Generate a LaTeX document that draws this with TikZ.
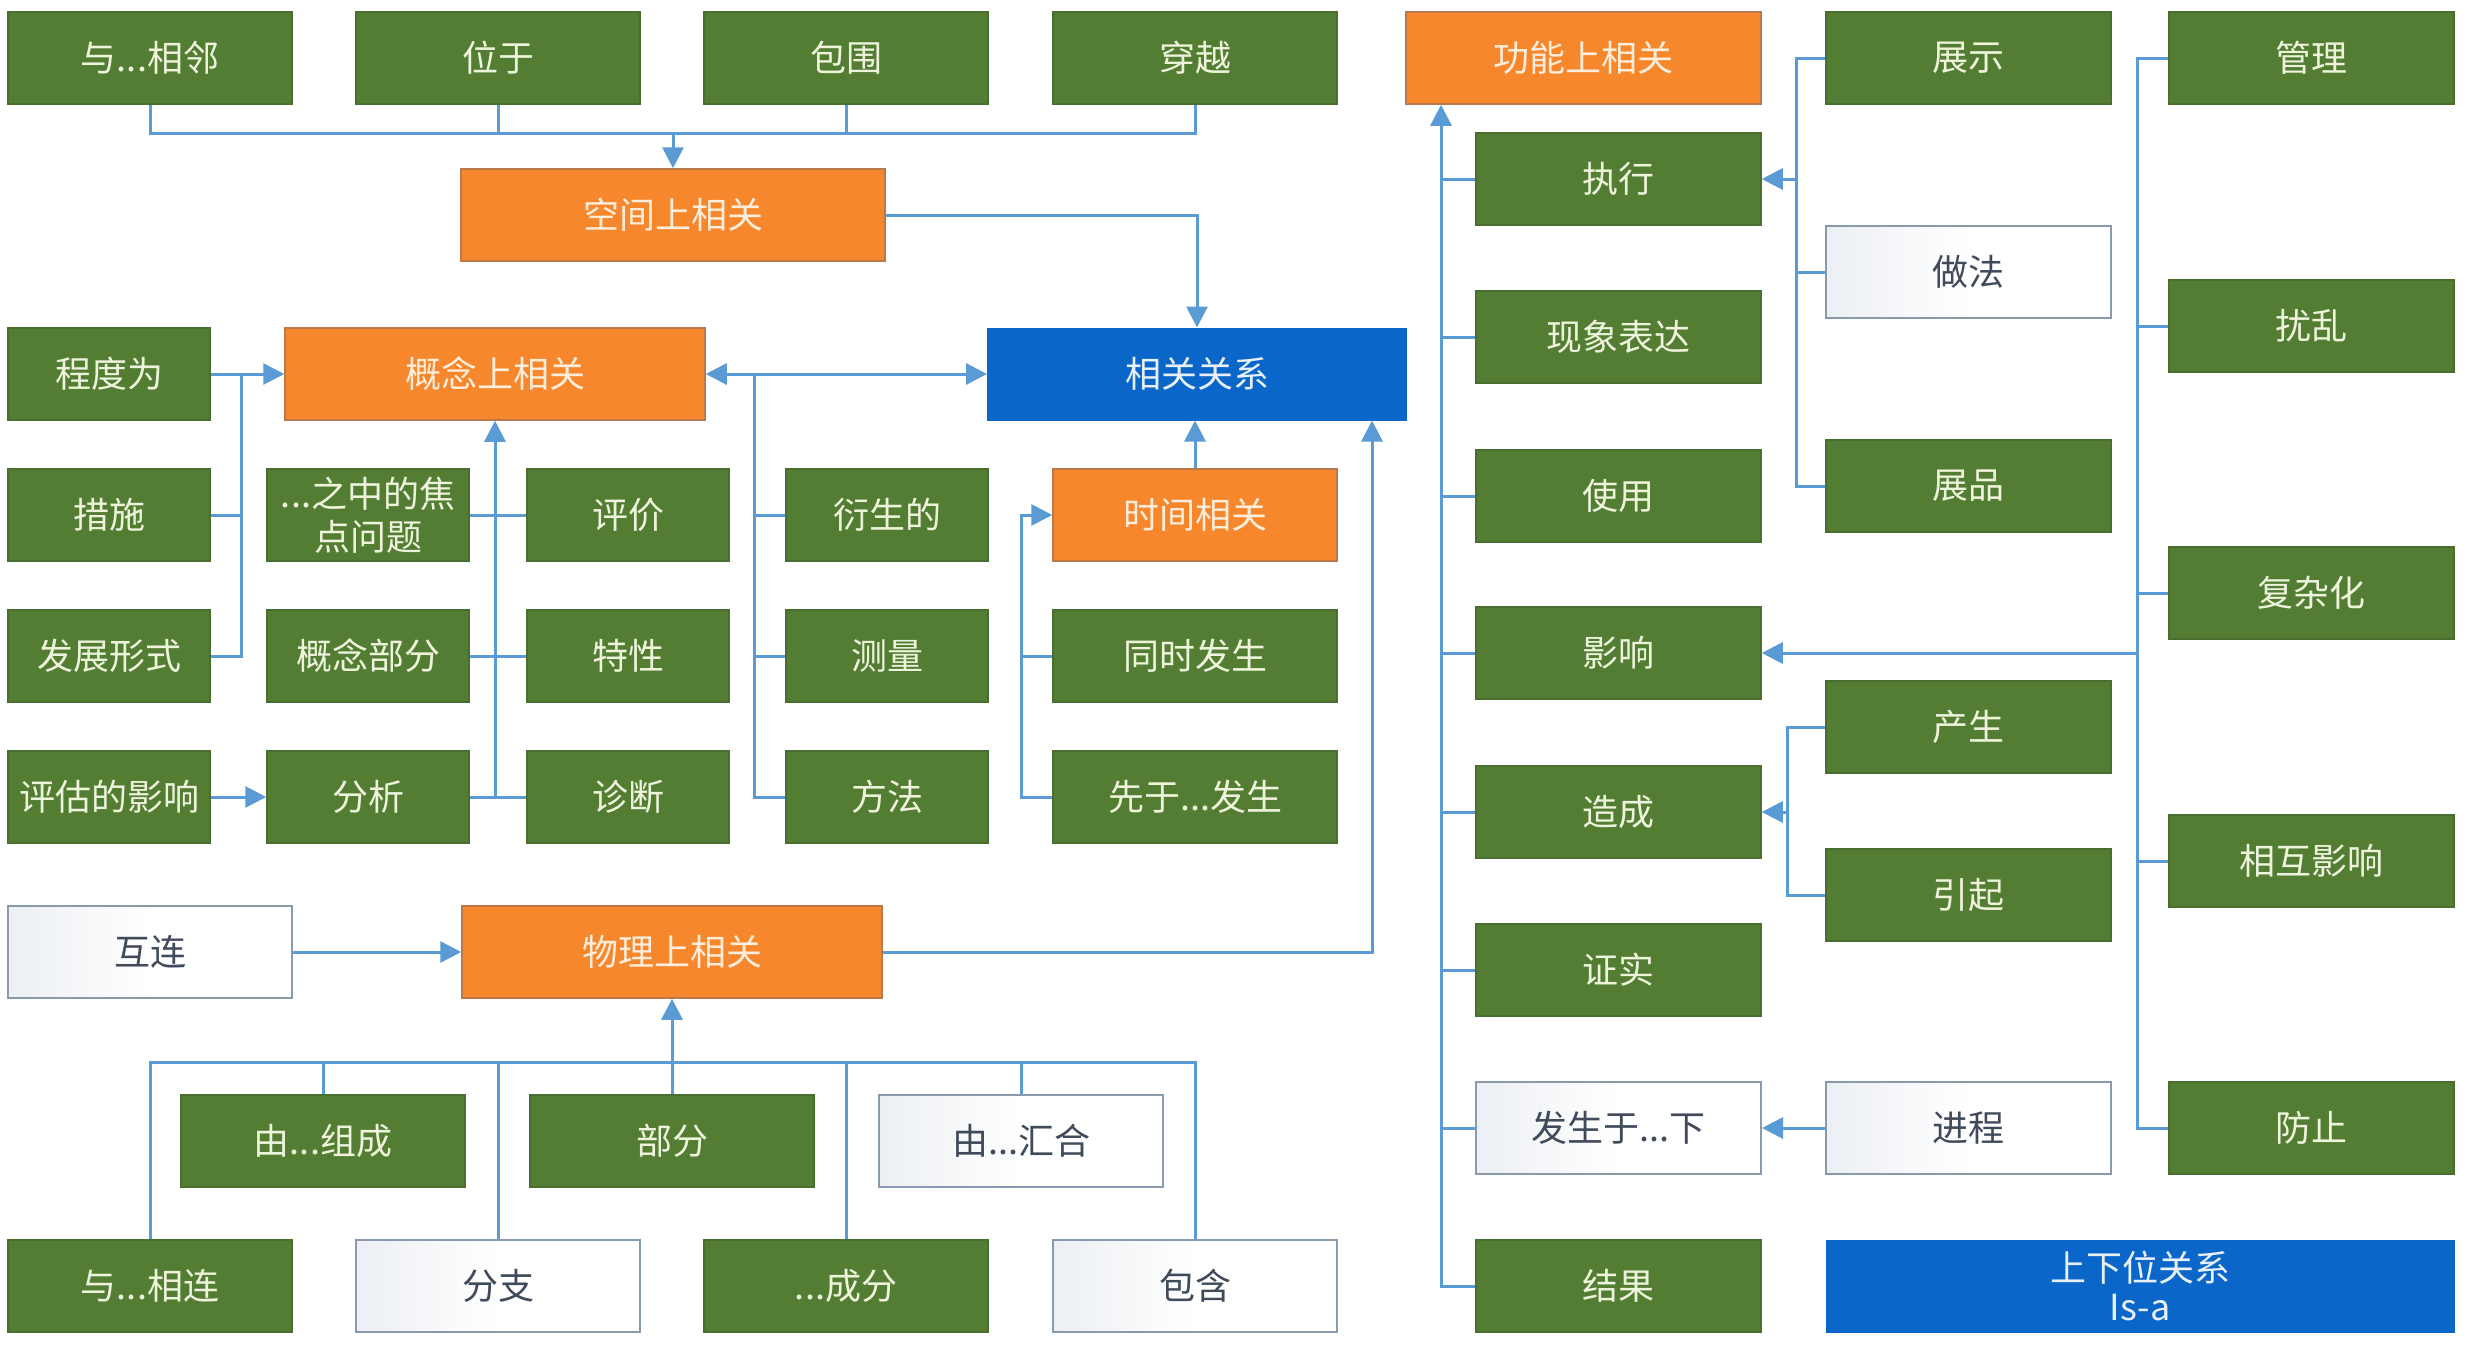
\documentclass[tikz,border=0pt]{standalone}
\usepackage{fontspec}
\setmainfont{Noto Sans CJK SC}
\usetikzlibrary{arrows.meta}
\definecolor{gr}{HTML}{537D33}
\definecolor{grb}{HTML}{4A6E30}
\definecolor{gtxt}{HTML}{EEF4DC}
\definecolor{orf}{HTML}{F6872C}
\definecolor{orb}{HTML}{B9794A}
\definecolor{otxt}{HTML}{FDEDDA}
\definecolor{blf}{HTML}{0A66C8}
\definecolor{btxt}{HTML}{E8F0FA}
\definecolor{wbd}{HTML}{8A9AAE}
\definecolor{wtxt}{HTML}{3F4B5B}
\definecolor{wsh}{HTML}{ECEFF3}
\definecolor{ln}{HTML}{5B9BD5}
\tikzset{
  box/.style={rectangle, minimum height=92pt, inner sep=2pt, align=center,
    font=\fontsize{36}{43}\selectfont},
  gbox/.style={box, fill=gr, draw=grb, line width=1.5pt, text=gtxt, minimum width=284pt},
  gnar/.style={gbox, minimum width=202pt},
  obox/.style={box, fill=orf, draw=orb, line width=1.5pt, text=otxt},
  bbox/.style={box, fill=blf, draw=blf, line width=1pt, text=btxt},
  wbox/.style={box, left color=wsh, right color=white, middle color=white, draw=wbd, line width=2pt, text=wtxt, minimum width=284pt},
  conn/.style={draw=ln, line width=3pt},
  arr/.style={conn, -{Triangle[length=21pt,width=21pt]}},
  arrr/.style={conn, {Triangle[length=21pt,width=21pt]}-{Triangle[length=21pt,width=21pt]}},
}
\begin{document}
\begin{tikzpicture}[x=1pt,y=-1pt]
\useasboundingbox[fill=white] (0,0) rectangle (2470,1358);
% top row
\node[gbox] (t1) at (150,58) {与...相邻};
\node[gbox] (t2) at (498,58) {位于};
\node[gbox] (t3) at (846,58) {包围};
\node[gbox] (t4) at (1195,58) {穿越};
\node[obox, minimum width=424pt] (sp) at (673,215) {空间上相关};
\node[obox, minimum width=420pt] (con) at (495,374) {概念上相关};
\node[bbox, minimum width=419pt] (corr) at (1197,374) {相关关系};
% column A
\node[gnar] (a1) at (109,374) {程度为};
\node[gnar] (a2) at (109,515) {措施};
\node[gnar] (a3) at (109,656) {发展形式};
\node[gnar] (a4) at (109,797) {评估的影响};
% column B
\node[gnar] (b1) at (368,515) {...之中的焦\\点问题};
\node[gnar] (b2) at (368,656) {概念部分};
\node[gnar] (b3) at (368,797) {分析};
% column C
\node[gnar] (c1) at (628,515) {评价};
\node[gnar] (c2) at (628,656) {特性};
\node[gnar] (c3) at (628,797) {诊断};
% column D
\node[gnar] (d1) at (887,515) {衍生的};
\node[gnar] (d2) at (887,656) {测量};
\node[gnar] (d3) at (887,797) {方法};
% column E
\node[obox, minimum width=284pt] (e1) at (1195,515) {时间相关};
\node[gbox] (e2) at (1195,656) {同时发生};
\node[gbox] (e3) at (1195,797) {先于...发生};
% physical
\node[wbox] (hl) at (150,952) {互连};
\node[obox, minimum width=420pt] (phys) at (672,952) {物理上相关};
\node[gbox] (p1) at (323,1141) {由...组成};
\node[gbox] (p2) at (672,1141) {部分};
\node[wbox] (p3) at (1021,1141) {由...汇合};
\node[gbox] (q1) at (150,1286) {与...相连};
\node[wbox] (q2) at (498,1286) {分支};
\node[gbox] (q3) at (846,1286) {...成分};
\node[wbox] (q4) at (1195,1286) {包含};
% functional
\node[obox, minimum width=355pt] (fun) at (1583.5,58) {功能上相关};
\node[gbox, minimum width=285pt] (L1) at (1618.5,179) {执行};
\node[gbox, minimum width=285pt] (L2) at (1618.5,337) {现象表达};
\node[gbox, minimum width=285pt] (L3) at (1618.5,496) {使用};
\node[gbox, minimum width=285pt] (L4) at (1618.5,653) {影响};
\node[gbox, minimum width=285pt] (L5) at (1618.5,812) {造成};
\node[gbox, minimum width=285pt] (L6) at (1618.5,970) {证实};
\node[wbox, minimum width=285pt] (L7) at (1618.5,1128) {发生于...下};
\node[gbox, minimum width=285pt] (L8) at (1618.5,1286) {结果};
\node[gbox, minimum width=285pt] (M1) at (1968.5,58) {展示};
\node[wbox, minimum width=285pt] (M2) at (1968.5,272) {做法};
\node[gbox, minimum width=285pt] (M3) at (1968.5,486) {展品};
\node[gbox, minimum width=285pt] (M4) at (1968.5,727) {产生};
\node[gbox, minimum width=285pt] (M5) at (1968.5,895) {引起};
\node[wbox, minimum width=285pt] (M6) at (1968.5,1128) {进程};
\node[gbox, minimum width=285pt] (R1) at (2311.5,58) {管理};
\node[gbox, minimum width=285pt] (R2) at (2311.5,326) {扰乱};
\node[gbox, minimum width=285pt] (R3) at (2311.5,593) {复杂化};
\node[gbox, minimum width=285pt] (R4) at (2311.5,861) {相互影响};
\node[gbox, minimum width=285pt] (R5) at (2311.5,1128) {防止};
\node[bbox, minimum width=628pt, font=\fontsize{36}{39}\selectfont] (isa) at (2140,1286) {上下位关系\\Is-a};
% junction coordinates
\coordinate (jt) at (0,133);
\coordinate (ja) at (241,0);
\coordinate (jd) at (754,0);
\coordinate (je) at (1021,0);
\coordinate (jp) at (1372,0);
\coordinate (jb) at (0,1062);
\coordinate (jr) at (1441,0);
\coordinate (jm) at (1796,0);
\coordinate (jn) at (1787,0);
\coordinate (jq) at (2137,0);
% spatial
\draw[conn] (t1.south) -- (t1.south |- jt) -- (t4.south |- jt) -- (t4.south);
\draw[conn] (t2.south) -- (t2.south |- jt);
\draw[conn] (t3.south) -- (t3.south |- jt);
\draw[arr] (sp.north |- jt) -- (sp.north);
\draw[arr] (sp.east) -| (corr.north);
% conceptual
\draw[arrr] (con.east) -- (corr.west);
\draw[arr] (a1.east) -- (con.west);
\draw[conn] (a3.east) -- (a3.east -| ja) -- (ja |- a1.east);
\draw[conn] (a2.east) -- (a2.east -| ja);
\draw[arr] (a4.east) -- (b3.west);
\draw[conn] (b1.east) -- (c1.west);
\draw[conn] (b2.east) -- (c2.west);
\draw[conn] (b3.east) -- (c3.west);
\draw[arr] (con.south |- b3.east) -- (con.south);
\draw[conn] (d3.west) -- (d3.west -| jd) -- (jd |- con.east);
\draw[conn] (d1.west) -- (d1.west -| jd);
\draw[conn] (d2.west) -- (d2.west -| jd);
% temporal
\draw[arr] (e3.west) -- (e3.west -| je) -- (e1.west -| je) -- (e1.west);
\draw[conn] (e2.west) -- (e2.west -| je);
\draw[arr] (e1.north) -- (e1.north |- corr.south);
% physical
\draw[arr] (hl.east) -- (phys.west);
\draw[arr] (phys.east) -- (phys.east -| jp) -- (jp |- corr.south);
\draw[conn] (q1.north) -- (q1.north |- jb) -- (q4.north |- jb) -- (q4.north);
\draw[conn] (q2.north) -- (q2.north |- jb);
\draw[conn] (q3.north) -- (q3.north |- jb);
\draw[conn] (p1.north) -- (p1.north |- jb);
\draw[conn] (p3.north) -- (p3.north |- jb);
\draw[arr] (p2.north) -- (phys.south);
% functional
\draw[arr] (L8.west) -- (L8.west -| jr) -- (jr |- fun.south);
\foreach \n in {L1,L2,L3,L4,L5,L6,L7} { \draw[conn] (\n.west) -- (\n.west -| jr); }
\draw[conn] (M1.west) -- (M1.west -| jm) -- (M3.west -| jm) -- (M3.west);
\draw[conn] (M2.west) -- (M2.west -| jm);
\draw[arr] (L1.east -| jm) -- (L1.east);
\draw[conn] (M4.west) -- (M4.west -| jn) -- (M5.west -| jn) -- (M5.west);
\draw[arr] (L5.east -| jn) -- (L5.east);
\draw[arr] (M6.west) -- (L7.east);
\draw[conn] (R1.west) -- (R1.west -| jq) -- (R5.west -| jq) -- (R5.west);
\foreach \n in {R2,R3,R4} { \draw[conn] (\n.west) -- (\n.west -| jq); }
\draw[arr] (L4.east -| jq) -- (L4.east);
\end{tikzpicture}
\end{document}
